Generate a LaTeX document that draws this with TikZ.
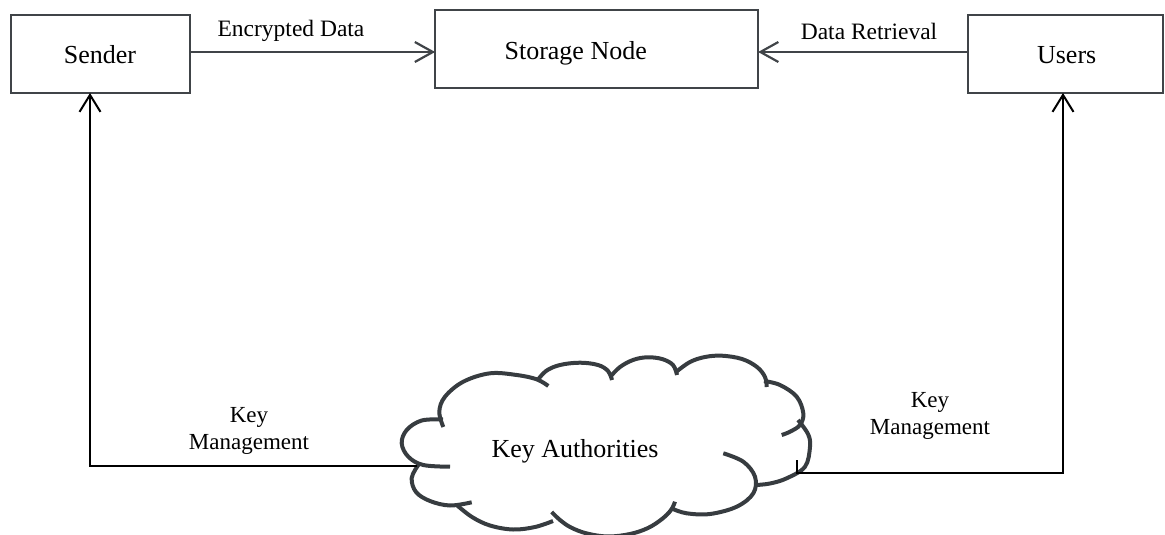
\documentclass[tikz,border=0pt]{standalone}
\usepackage{fontspec}
\setmainfont{Liberation Serif}
\usetikzlibrary{arrows.meta}
\definecolor{boxgray}{HTML}{404448}
\definecolor{cloudgray}{HTML}{373C40}
\begin{document}
\begin{tikzpicture}[x=1pt,y=-1pt,
  box/.style={draw=boxgray, line width=2.2pt, inner sep=0pt, outer sep=0pt},
  boxlabel/.style={font=\fontsize{26}{30}\selectfont, inner sep=0pt, anchor=base},
  edgelabel/.style={font=\fontsize{23.5}{27}\selectfont, inner sep=0pt, anchor=base},
  keylabel/.style={font=\fontsize{23}{27}\selectfont, inner sep=0pt, align=center},
  harrow/.style={draw=boxgray, line width=2.2pt, -{Straight Barb[length=18pt,width=20pt]}},
  conn/.style={draw=black, line width=2pt, -{Straight Barb[length=17pt,width=21pt]}},
  puff/.style={draw=cloudgray, line width=4pt, line cap=butt}]
\useasboundingbox (0,0) rectangle (1165,535);

% boxes
\node[box, minimum width=179pt, minimum height=78pt] (sender) at (100.5,54) {};
\node[box, minimum width=323pt, minimum height=78pt] (storage) at (596.6,49.2) {};
\node[box, minimum width=195pt, minimum height=78pt] (users) at (1065.5,54) {};
\node[boxlabel] (senderlbl) at (100,64) {Sender};
\node[boxlabel] (storagelbl) at (575.7,59.3) {Storage Node};
\node[boxlabel] (userslbl) at (1066.7,64) {Users};

% cloud
\draw[puff] plot[smooth, tension=0.6] coordinates {(443.3,427) (439.3,411.7) (445,396.7) (463.3,381.7) (490,373.3) (516.7,375) (536.7,379.3) (548.3,386)};
\draw[puff] plot[smooth, tension=0.6] coordinates {(537,381) (546,371) (560,365) (580,362.7) (598,365) (608,371) (612,380)};
\draw[puff] plot[smooth, tension=0.6] coordinates {(611,376) (620,367) (633,360) (647,357.3) (662,359) (673,365) (677,375)};
\draw[puff] plot[smooth, tension=0.6] coordinates {(676,372) (690,362) (705,357) (722,355.7) (742,359) (757,367) (765,377) (766.7,387)};
\draw[puff] plot[smooth, tension=0.6] coordinates {(764,381) (780,385) (796.7,396.7) (803.3,413.3) (800,425) (790,431.7) (781.7,435)};
\draw[puff] plot[smooth, tension=0.6] coordinates {(798,420) (808,434) (810,446.7) (805,466.7) (786.7,478.3) (770,483.5) (756,485)};
\draw[puff] plot[smooth, tension=0.6] coordinates {(723.3,453.3) (743.3,461.7) (755,476.7) (753.3,493.3) (736.7,506.7) (710,514) (686.7,513.3) (673,509)};
\draw[puff] plot[smooth, tension=0.6] coordinates {(551.7,512) (560,520) (571,527.5) (587,533.5) (608,536.5) (630,534) (648,528) (662,519) (671,510) (675,501.7)};
\draw[puff] plot[smooth, tension=0.6] coordinates {(456.7,505) (472,517) (490,525.5) (513,529.5) (535,527) (553,521)};
\draw[puff] plot[smooth, tension=0.6] coordinates {(418.3,465) (411.7,478) (416,492) (430,501) (450,505.5) (471.7,502.3)};
\draw[puff] plot[smooth, tension=0.6] coordinates {(443,419.5) (421.7,420.5) (406.7,430) (401.7,443.3) (408.3,456.7) (423.3,465) (450,466.7)};

\node[boxlabel] (ka) at (575,457) {Key Authorities};
\coordinate (kl) at (417,466);
\coordinate (kr) at (797,460);

% connectors
\draw[harrow] ([yshift=2pt]sender.east) -- ([yshift=2pt]sender.east -| storage.west);
\draw[harrow] ([yshift=2pt]users.west) -- ([yshift=2pt]users.west -| storage.east);
\node[edgelabel] (enc) at (291,36.7) {Encrypted Data};
\node[edgelabel] (ret) at (869,39.3) {Data Retrieval};

\draw[conn] (kl) -| ([xshift=-10.5pt]sender.south);
\draw[conn] (kr) -- ++(0,13) -| ([xshift=-2.5pt]users.south);
\node[keylabel] (kml) at (249,431.4) {Key\\Management};
\node[keylabel] (kmr) at (930,416.4) {Key\\Management};
\end{tikzpicture}
\end{document}
